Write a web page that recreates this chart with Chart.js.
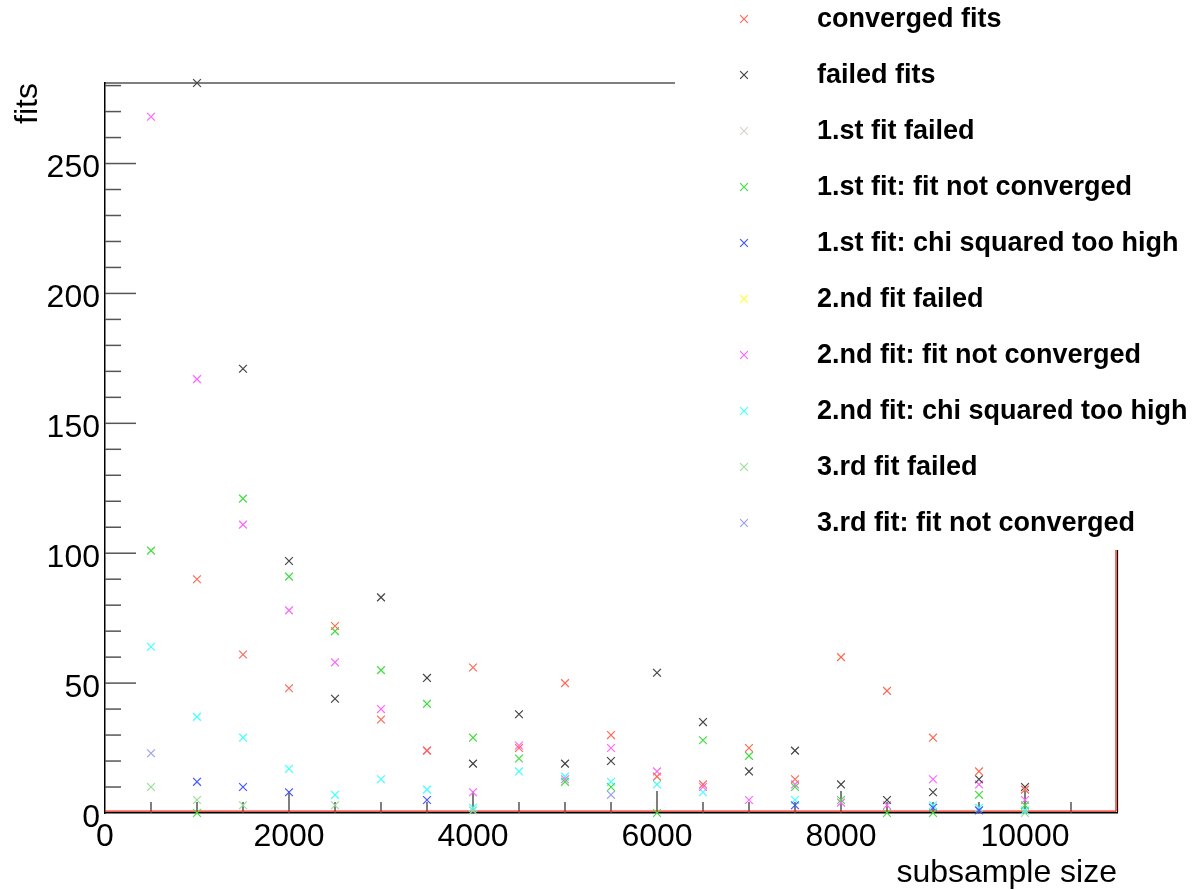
<!DOCTYPE html>
<html>
<head>
<meta charset="utf-8">
<title>fits vs subsample size</title>
<script src="https://cdn.jsdelivr.net/npm/chart.js@4.4.1/dist/chart.umd.min.js"></script>
<style>
  html, body { margin: 0; padding: 0; background: #ffffff; }
  #wrap { width: 1200px; height: 890px; }
</style>
</head>
<body>
<div id="wrap"><canvas id="chart-fits" width="1200" height="890"></canvas></div>
<script>
// data
var subsampleSizes = [500, 1000, 1500, 2000, 2500, 3000, 3500, 4000, 4500, 5000,
                      5500, 6000, 6500, 7000, 7500, 8000, 8500, 9000, 9500, 10000];

var convergedFits      = [null, 90, 61, 48, 72, 36, 24, 56, 25, 50, 30, 14, 11, 25, 13, 60, 47, 29, 16, 9];
var failedFits         = [null, 281, 171, 97, 44, 83, 52, 19, 38, 19, 20, 54, 35, 16, 24, 11, 5, 8, 13, 10];
var firstFitFailed     = [];
var firstNotConverged  = [101, 0, 121, 91, 70, 55, 42, 29, 21, 12, 10, 0, 28, 22, 10, 5, 0, 0, 7, 3];
var firstChiTooHigh    = [null, 12, 10, 8, null, null, 5, null, null, null, null, null, null, null, 3, null, null, 2, 1, null];
var secondFitFailed    = [];
var secondNotConverged = [268, 167, 111, 78, 58, 40, 24, 8, 26, 13, 25, 16, 10, 5, 11, 4, 3, 13, 11, 5];
var secondChiTooHigh   = [64, 37, 29, 17, 7, 13, 9, 2, 16, 14, 12, 11, 8, null, 5, null, null, 3, 2, 1];
var thirdFitFailed     = [10, 5, 3, null, 3, null, null, 1, null, null, null, null, null, null, null, null, null, null, null, 0];
var thirdNotConverged  = [23, null, null, null, null, null, null, null, null, null, 7, null, null, null, null, null, null, null, null, null];

var seriesLabels = ['converged fits', 'failed fits', '1.st fit failed', '1.st fit: fit not converged',
                    '1.st fit: chi squared too high', '2.nd fit failed', '2.nd fit: fit not converged',
                    '2.nd fit: chi squared too high', '3.rd fit failed', '3.rd fit: fit not converged'];
var seriesValues = [convergedFits, failedFits, firstFitFailed, firstNotConverged, firstChiTooHigh,
                    secondFitFailed, secondNotConverged, secondChiTooHigh, thirdFitFailed, thirdNotConverged];
var seriesColors = ['#ff6a55', '#444444', '#d8cfc8', '#44dd44', '#4455ff',
                    '#ffff33', '#ff66ff', '#44ffff', '#99dd99', '#9aa2f0'];

var xTickValues = [0, 2000, 4000, 6000, 8000, 10000];
var yTickValues = [0, 50, 100, 150, 200, 250];
var xMin = 0, xMax = 11000, xMajorStep = 2000, xMinorStep = 500;
var yMin = 0, yMax = 281, yMajorStep = 50, yMinorStep = 10;

var fontFamily = "'Liberation Sans', Arial, Helvetica, sans-serif";

function toPoints(values) {
    var pts = [];
    for (var i = 0; i < values.length; i++) {
        if (values[i] !== null && values[i] !== undefined) {
            pts.push({ x: subsampleSizes[i], y: values[i] });
        }
    }
    return pts;
}

function strokeLine(ctx, ax, ay, bx, by) {
    ctx.beginPath();
    ctx.moveTo(ax, ay);
    ctx.lineTo(bx, by);
    ctx.stroke();
}

// ROOT-like frame: inward ticks, top/right frame lines, red zero lines
var rootFrame = {
    id: 'rootFrame',
    beforeDatasetsDraw: function (chart) {
        var ctx = chart.ctx, xs = chart.scales.x, ys = chart.scales.y;
        var x0 = xs.getPixelForValue(xMin), x1 = xs.getPixelForValue(xMax);
        var y0 = ys.getPixelForValue(yMin), y1 = ys.getPixelForValue(yMax);
        ctx.save();
        ctx.strokeStyle = '#555555';
        ctx.lineWidth = 1.5;
        for (var v = xMin + xMinorStep; v < xMax; v += xMinorStep) {
            var px = xs.getPixelForValue(v);
            strokeLine(ctx, px, y0, px, y0 - (v % xMajorStep === 0 ? 22 : 11));
        }
        for (var w = yMin + yMinorStep; w <= yMax; w += yMinorStep) {
            var py = ys.getPixelForValue(w);
            strokeLine(ctx, x0, py, x0 + (w % yMajorStep === 0 ? 31 : 16), py);
        }
        ctx.strokeStyle = '#000000';
        ctx.lineWidth = 1.2;
        strokeLine(ctx, x0, y1, x1, y1);
        strokeLine(ctx, x1 + 0.5, y1, x1 + 0.5, y0);
        ctx.strokeStyle = '#ee2211';
        ctx.lineWidth = 1.3;
        strokeLine(ctx, x0, y0 - 1.8, x1 - 1, y0 - 1.8);
        strokeLine(ctx, x1 - 1, y0 - 1.8, x1 - 1, y1);
        ctx.restore();
    },
    afterDraw: function (chart) {
        var ctx = chart.ctx;
        ctx.save();
        ctx.fillStyle = '#ffffff';
        ctx.fillRect(675, 0, 525, 550);
        ctx.font = 'bold 27px ' + fontFamily;
        ctx.textBaseline = 'middle';
        ctx.textAlign = 'left';
        chart.data.datasets.forEach(function (ds, i) {
            var y = 19 + 56 * i;
            ctx.strokeStyle = ds.borderColor;
            ctx.fillStyle = ds.borderColor;
            ctx.lineWidth = 1.2;
            Chart.helpers.drawPoint(ctx, { pointStyle: 'crossRot', radius: 5.5, rotation: 0, borderWidth: 1.2 }, 744, y);
            ctx.fillStyle = '#000000';
            ctx.fillText(ds.label, 817, y + 1);
        });
        ctx.restore();
    }
};

var fitsData = {
    datasets: seriesLabels.map(function (label, i) {
        return {
            label: label,
            data: toPoints(seriesValues[i]),
            borderColor: seriesColors[i],
            backgroundColor: seriesColors[i],
            pointStyle: 'crossRot',
            pointRadius: 5.5,
            pointBorderWidth: 1.2,
            showLine: false,
            clip: false
        };
    })
};

Chart.defaults.font.family = fontFamily;
Chart.defaults.color = '#000000';

var fitsChart = new Chart(document.getElementById('chart-fits').getContext('2d'), {
    type: 'scatter',
    data: fitsData,
    plugins: [rootFrame],
    options: {
        responsive: false,
        animation: false,
        devicePixelRatio: 1,
        layout: { padding: { top: 83, right: 83, left: 0, bottom: 0 } },
        plugins: { legend: { display: false }, tooltip: { enabled: false } },
        scales: {
            x: {
                type: 'linear',
                min: xMin,
                max: xMax,
                afterBuildTicks: function (s) { s.ticks = xTickValues.map(function (v) { return { value: v }; }); },
                afterFit: function (s) { s.height = 77; },
                grid: { display: false, drawTicks: false },
                border: { display: true, color: '#000000', width: 1.5 },
                ticks: { font: { size: 32 }, color: '#000000', padding: 5, maxRotation: 0, autoSkip: false,
                         callback: function (v) { return String(v); } },
                title: { display: true, text: 'subsample size', align: 'end', color: '#000000',
                         font: { size: 32, lineHeight: 1.05 }, padding: { top: 0, bottom: 0 } }
            },
            y: {
                type: 'linear',
                min: yMin,
                max: yMax,
                afterBuildTicks: function (s) { s.ticks = yTickValues.map(function (v) { return { value: v }; }); },
                afterFit: function (s) { s.width = 105; },
                grid: { display: false, drawTicks: false },
                border: { display: true, color: '#000000', width: 1.5 },
                ticks: { font: { size: 32 }, color: '#000000', padding: 5, labelOffset: 5, autoSkip: false,
                         callback: function (v) { return String(v); } },
                title: { display: true, text: 'fits', align: 'end', color: '#000000',
                         font: { size: 32 }, padding: { top: 9, bottom: 0 } }
            }
        }
    }
});
</script>
</body>
</html>
